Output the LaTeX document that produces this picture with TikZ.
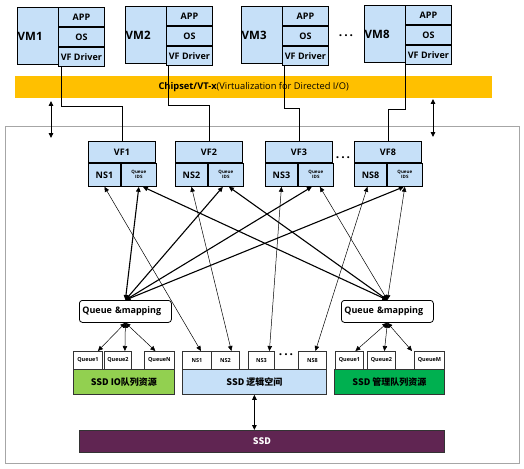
\documentclass[tikz,border=0pt]{standalone}
\usepackage{fontspec}
\setmainfont{Open Sans}
\newfontfamily\cjk{Noto Sans CJK SC}
\usetikzlibrary{arrows.meta}
\definecolor{cellblue}{RGB}{198,224,248}
\definecolor{chipgold}{RGB}{255,192,0}
\definecolor{iogreen}{RGB}{146,208,80}
\definecolor{mgmtgreen}{RGB}{0,176,80}
\definecolor{ssdpurple}{RGB}{96,37,82}
\definecolor{framegray}{RGB}{166,166,166}
\begin{document}
\begin{tikzpicture}[x=1pt,y=-1pt,
  >={Triangle[length=5pt,width=4.5pt]},
  cell/.style={draw, fill=cellblue, line width=0.9pt, inner sep=0pt, anchor=north west, font=\bfseries\fontsize{9}{10}\selectfont},
  qbox/.style={draw=black!80, fill=white, line width=0.8pt, inner sep=0pt, anchor=north west, minimum height=18, font=\bfseries\fontsize{5.5}{6}\selectfont},
  bar/.style={draw=black!80, line width=0.8pt, inner sep=0pt, anchor=north west, minimum height=25, font=\cjk\bfseries\fontsize{9}{10}\selectfont},
  qmap/.style={draw, rounded corners=3pt, fill=white, line width=0.8pt, anchor=north west, minimum width=92, minimum height=22, text width=86, inner xsep=3pt, align=left, font=\bfseries\fontsize{9}{10}\selectfont},
  dotrow/.style={font=\bfseries\fontsize{12}{12}\selectfont, inner sep=0pt},
  thk/.style={<->, line width=1.1pt},
  thn/.style={<->, line width=0.5pt}]
\useasboundingbox (0,0) rectangle (524,468);
% host side
\node[fill=chipgold, anchor=north west, minimum width=477, minimum height=22, inner sep=0pt, font=\fontsize{9.3}{10}\selectfont] (chip) at (15,76) {\textbf{Chipset/VT-x}(Virtualization for Directed I/O)};
\foreach \n/\x/\y in {1/17/7,2/125/6,3/241/6,8/364/5}{
  \node[cell, minimum width=87, minimum height=57] (vm\n) at (\x,\y) {};
  \node[anchor=west, inner sep=0.5pt, font=\bfseries\fontsize{11.5}{12}\selectfont] (vml\n) at (vm\n.west) {VM\n};
  \node[cell, anchor=north east, minimum width=46, minimum height=19] (app\n) at (vm\n.north east) {APP};
  \node[cell, anchor=north, minimum width=46, minimum height=19] (os\n) at (app\n.south) {OS};
  \node[cell, anchor=north, minimum width=46, minimum height=19] (drv\n) at (os\n.south) {VF Driver};
}
\node[dotrow] (dots1) at (346,36) {.\,.\,.};
% device side
\node[draw=framegray, line width=0.9pt, anchor=north west, minimum width=514, minimum height=337] (frame) at (5,126) {};
\foreach \n/\x in {1/88,2/175,3/265,8/354}{
  \node[cell, minimum width=67, minimum height=21] (vf\n) at (\x,141) {VF\n};
  \node[cell, minimum width=32, minimum height=23] (ns\n) at (vf\n.south west) {NS\n};
  \node[cell, minimum width=35, minimum height=23, align=center, font=\bfseries\fontsize{4.5}{5}\selectfont] (qid\n) at (ns\n.north east) {Queue\\IDS};
}
\node[dotrow] (dots2) at (343,158) {.\,.\,.};
\foreach \n/\dx/\dy in {1/3/40,2/2/40,3/2/43,8/0/45}
  \draw[line width=0.8pt] ([xshift=\dx]drv\n.south west) -- ++(0,\dy) -| (vf\n.north);
\coordinate (lt) at (51,101);
\coordinate (lb) at (51,138);
\coordinate (rt) at (433,99);
\coordinate (rb) at (433,137);
\draw[<->, line width=0.9pt] (lt) -- (lb);
\draw[<->, line width=0.9pt] (rt) -- (rb);
\node[qmap] (qml) at (79,300) {Queue \&mapping};
\node[qmap] (qmr) at (341,300) {Queue \&mapping};
% queues and namespaces
\node[qbox, minimum width=29] (lq1) at (73,351) {Queue1};
\node[qbox, minimum width=27] (lq2) at (104,351) {Queue2};
\node[qbox, minimum width=30] (lqn) at (144,351) {QueueN};
\node[bar, fill=iogreen, minimum width=101] (iobar) at (73,369) {SSD IO队列资源};
\node[qbox, minimum width=29] (bns1) at (182,351) {NS1};
\node[qbox, minimum width=28] (bns2) at (211,351) {NS2};
\node[qbox, minimum width=26] (bns3) at (248,351) {NS3};
\node[qbox, minimum width=28] (bns8) at (298,351) {NS8};
\node[dotrow] (dots3) at (286,355) {.\,.\,.};
\node[bar, fill=cellblue, minimum width=144] (nsbar) at (182,369) {SSD 逻辑空间};
\node[qbox, minimum width=28] (rq1) at (335,351) {Queue1};
\node[qbox, minimum width=28] (rq2) at (367,351) {Queue2};
\node[qbox, minimum width=30] (rqm) at (414,351) {QueueM};
\node[bar, fill=mgmtgreen, minimum width=110] (mgbar) at (334,369) {SSD 管理队列资源};
\node[bar, fill=ssdpurple, text=white, minimum width=365, minimum height=22] (ssd) at (79,430) {SSD};
\draw[<->, line width=1pt] (nsbar.south) -- (nsbar.south |- ssd.north);
% mapping
\draw[thk] (qml.north) -- ([xshift=0]qid1.south);
\draw[thk] (qml.north) -- ([xshift=-3]qid2.south);
\draw[thk] (qml.north) -- ([xshift=-4]qid3.south);
\draw[thk] (qml.north) -- ([xshift=-1]qid8.south);
\draw[thk] (qmr.north) -- ([xshift=4]qid1.south);
\draw[thk] (qmr.north) -- ([xshift=3]qid2.south);
\draw[thn] (qmr.north) -- ([xshift=4]qid3.south);
\draw[thn] (qmr.north) -- ([xshift=0]qid8.south);
\draw[thn] (ns1.south) -- ([xshift=4]bns1.north);
\draw[thn] (ns2.south) -- ([xshift=6]bns2.north);
\draw[thn] (ns3.south) -- ([xshift=8]bns3.north);
\draw[thn] ([xshift=-3]ns8.south) -- ([xshift=3]bns8.north);
\draw[thn] (qml.south) -- ([xshift=10]lq1.north);
\draw[thn] (qml.south) -- ([xshift=7]lq2.north);
\draw[thn] (qml.south) -- ([xshift=-4]lqn.north);
\draw[thn] (qmr.south) -- ([xshift=6]rq1.north);
\draw[thn] (qmr.south) -- ([xshift=3]rq2.north);
\draw[thn] (qmr.south) -- ([xshift=-2]rqm.north west);
\end{tikzpicture}
\end{document}
